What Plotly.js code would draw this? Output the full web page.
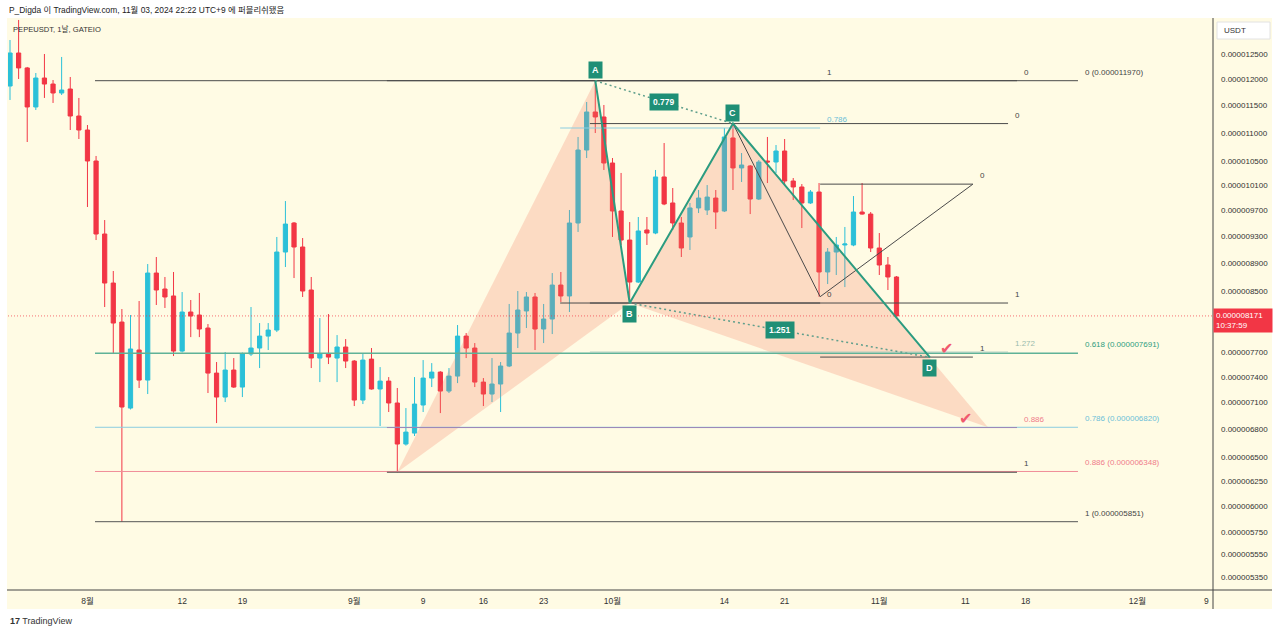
<!DOCTYPE html>
<html><head><meta charset="utf-8">
<script src="https://cdn.plot.ly/plotly-3.0.1.min.js"></script>
<style>html,body{margin:0;padding:0;background:#fff;}#chart{width:1280px;height:634px;}</style>
</head><body><div id="chart"></div>
<script>
// ---- candle data (prices in units of 1e-9 USDT) ----
const dates = ['2024-07-23','2024-07-24','2024-07-25','2024-07-26','2024-07-27','2024-07-28','2024-07-29','2024-07-30','2024-07-31',
'2024-08-01','2024-08-02','2024-08-03','2024-08-04','2024-08-05','2024-08-06','2024-08-07','2024-08-08','2024-08-09','2024-08-10',
'2024-08-11','2024-08-12','2024-08-13','2024-08-14','2024-08-15','2024-08-16','2024-08-17','2024-08-18','2024-08-19','2024-08-20',
'2024-08-21','2024-08-22','2024-08-23','2024-08-24','2024-08-25','2024-08-26','2024-08-27','2024-08-28','2024-08-29','2024-08-30','2024-08-31',
'2024-09-01','2024-09-02','2024-09-03','2024-09-04','2024-09-05','2024-09-06','2024-09-07','2024-09-08','2024-09-09','2024-09-10',
'2024-09-11','2024-09-12','2024-09-13','2024-09-14','2024-09-15','2024-09-16','2024-09-17','2024-09-18','2024-09-19','2024-09-20',
'2024-09-21','2024-09-22','2024-09-23','2024-09-24','2024-09-25','2024-09-26','2024-09-27','2024-09-28','2024-09-29','2024-09-30',
'2024-10-01','2024-10-02','2024-10-03','2024-10-04','2024-10-05','2024-10-06','2024-10-07','2024-10-08','2024-10-09','2024-10-10',
'2024-10-11','2024-10-12','2024-10-13','2024-10-14','2024-10-15','2024-10-16','2024-10-17','2024-10-18','2024-10-19','2024-10-20',
'2024-10-21','2024-10-22','2024-10-23','2024-10-24','2024-10-25','2024-10-26','2024-10-27','2024-10-28','2024-10-29','2024-10-30',
'2024-10-31','2024-11-01','2024-11-02','2024-11-03'];
const openN = [11867,12520,12220,11470,12022,11905,11733,11809,11303,
11049,10507,9333,8619,8090,7036,7731,7363,8760,8536,
8440,7718,8223,8183,8012,7447,7163,7484,7280,7681,
7756,7908,7986,9064,9501,9138,8522,7631,7681,7631,7769,
7594,7128,7618,7257,7351,7094,6637,6756,7071,7387,
7459,7233,7411,7908,7756,7339,7198,7316,7533,7947,
8237,8426,7999,8130,8591,8440,9501,10696,11377,11285,
10473,9688,9242,8633,9394,9348,10238,9815,9501,9288,
9736,9704,9894,9688,10907,10389,10422,9878,10507,10490,
10679,10171,10073,9815,9991,8775,9064,9168,9168,9672,
9640,9123,8875,8704];
const highN = [12787,13210,12240,12120,12500,11983,12440,12042,11639,
11139,10593,9547,8789,8263,8183,8371,8889,8991,8704,
8775,8494,8385,8481,8064,7582,7706,7631,7700,8290,
8077,8077,9288,9846,9516,9272,8704,8143,8196,7921,7870,
7606,7681,7756,7520,7399,7269,7036,7399,7606,7569,
7470,7508,8051,7947,7819,7387,7631,7582,8331,8508,
8494,8481,8331,8760,8775,9704,10925,11563,11970,11507,
10558,10305,9516,9594,9594,10355,10818,10056,9594,9815,
10024,10105,10024,11085,11170,10644,10439,10524,10925,10783,
10889,10221,10121,10024,10138,9123,9288,9440,9926,10138,
9672,9348,8991,8718];
const lowN = [11601,12003,10836,11414,11639,11545,11695,11049,10889,
9751,9242,8290,7681,5851,7020,7269,7198,8317,8277,
7656,7700,7895,7895,7210,6867,7105,7270,7163,7656,
7508,7731,7960,8846,8689,8426,7508,7339,7557,7339,7508,
7059,7082,7250,6834,6991,6340,6620,6724,6991,7280,
6979,7210,7327,7631,7280,7059,7105,6991,7520,7756,
8012,7731,7819,7934,8358,8223,9364,10558,10995,10355,
9288,9168,8344,8620,9168,9330,9780,9394,8991,9094,
9656,9625,9409,9672,10024,10155,9640,9862,10138,10305,
10105,9862,9424,9800,8430,8605,8732,8563,9150,9630,
9064,8732,8522,8157];
const closeN = [12520,12220,11470,12022,11905,11733,11790,11303,11049,
10507,9333,8619,8077,7048,7744,7363,8760,8522,8426,
7718,8223,8170,7999,7447,7163,7484,7280,7681,7756,
7908,7986,9064,9485,9138,8508,7631,7681,7643,7769,7594,
7128,7606,7257,7351,7094,6637,6767,7082,7387,7459,
7233,7411,7908,7756,7339,7198,7316,7533,7947,8250,
8426,7999,8130,8591,8440,9501,10696,11377,11285,10473,
9688,9242,8633,9379,9348,10238,9799,9501,9123,9736,
9894,9910,9672,10925,10389,10439,9878,10490,10490,10679,
10171,10073,9815,9991,8775,9064,9168,9183,9672,9640,
9123,8875,8704,8171];
const lastPriceN = 8171;
const lastPriceTimer = '10:37:59';

// ---- axis ticks ----
const yTickLabels = ['0.000012500','0.000012000','0.000011500','0.000011000','0.000010500','0.000010100','0.000009700','0.000009300',
'0.000008900','0.000008500','0.000007700','0.000007400','0.000007100','0.000006800','0.000006500','0.000006250','0.000006000',
'0.000005750','0.000005550','0.000005350'];
const xTickDates = ['2024-08-01','2024-08-12','2024-08-19','2024-09-01','2024-09-09','2024-09-16','2024-09-23','2024-10-01',
'2024-10-14','2024-10-21','2024-11-01','2024-11-11','2024-11-18','2024-12-01','2024-12-09'];
const xTickText = ['8월','12','19','9월','9','16','23','10월','14','21','11월','11','18','12월','9'];

// ---- XABCD pattern ----
const patternNames = ['X','A','B','C','D'];
const patternDates = ['2024-09-06','2024-09-29','2024-10-03','2024-10-15','2024-11-06 21:00'];
const patternPricesN = [6340,11970,8344,11165,7640];
const projTipDate = '2024-11-13 15:00';
const projTipPriceN = 6820;
const ratioTexts = ['0.779','1.251'];

// ---- fibonacci tools ----
const fibStart = ['2024-08-01 21:00','2024-09-04 19:00','2024-09-28 09:00','2024-09-24 22:00','2024-10-25 03:00'];
const fibEnd   = ['2024-11-24 02:00','2024-11-17 00:00','2024-11-15 23:00','2024-10-25 03:00','2024-11-11 21:00'];
const fibLevels = [[0,0.618,0.786,0.886,1],[0,0.886,1],[0,1,1.272],[0,0.786,1],[0,1]];
const fibPricesN = [[11970,7691,6820,6348,5851],[11970,6817,6340],[11165,8344,7705],[8344,11085,11970],[10120,7643]];
const fibShowPrice = [true,false,false,false,false];
const fibLineColors = [['#4a4a4a','#5fb297','#8ccde0','#f08c98','#555555'],['#4a4a4a','#9b86b8','#4a4a4a'],
  ['#4a4a4a','#4a4a4a','#a3c9ba'],['#4a4a4a','#8ccde0','#4a4a4a'],['#4a4a4a','#4a4a4a']];
const fibTextColors = [['#444','#2e9d7f','#6cbfd8','#ef7b8a','#444'],['#444','#ef7b8a','#444'],
  ['#444','#444','#9bbcae'],['#444','#6cbfd8','#444'],['#444','#444']];

// ---- extra trend lines ----
const trendDates = ['2024-10-15','2024-10-25 03:00','2024-11-11 21:00'];
const trendPricesN = [11165,8430,10120];

// ---- check marks ----
const checkDates = ['2024-11-08 18:00','2024-11-10 23:00'];
const checkPricesN = [7744,6923];

// ================= build =================
const UNIT = 1e-9;
const P = v => v*UNIT;
const L = v => Math.log10(v*UNIT);
const toMs = s => { const [d,t] = s.split(' '); return Date.parse(d+'T'+(t||'00:00')+':00Z'); };
const msStr = ms => new Date(ms).toISOString().replace('T',' ').slice(0,19);
const PX = px => (px-8)/1205;
const PY = py => (590-py)/572;
const FONT = 'Liberation Sans, Arial, Noto Sans CJK KR, sans-serif';
const xRange = ['2024-07-22 18:25','2024-12-09 18:30'];

const traces = [];
const ann = [];

const pd = patternDates, pp = patternPricesN;
// shaded triangles
traces.push({type:'scatter',mode:'lines',x:[pd[0],pd[1],pd[2],pd[0]],y:[pp[0],pp[1],pp[2],pp[0]].map(P),
  fill:'toself',fillcolor:'rgba(243,118,92,0.24)',line:{width:0},hoverinfo:'skip'});
traces.push({type:'scatter',mode:'lines',x:[pd[2],pd[3],projTipDate,pd[2]],y:[pp[2],pp[3],projTipPriceN,pp[2]].map(P),
  fill:'toself',fillcolor:'rgba(243,118,92,0.24)',line:{width:0},hoverinfo:'skip'});

// fib lines + labels
fibStart.forEach((s,k)=>{
  fibLevels[k].forEach((lv,j)=>{
    const pr = fibPricesN[k][j];
    traces.push({type:'scatter',mode:'lines',x:[s,fibEnd[k]],y:[P(pr),P(pr)],
      line:{color:fibLineColors[k][j],width:(k===0&&j===1)?1.6:1},hoverinfo:'skip'});
    const txt = fibShowPrice[k] ? `${lv} (${P(pr).toFixed(9)})` : String(lv);
    ann.push({x:fibEnd[k],y:L(pr),xref:'x',yref:'y',text:txt,showarrow:false,xanchor:'left',yanchor:'bottom',
      xshift:5,yshift:2,font:{family:FONT,size:8,color:fibTextColors[k][j]}});
  });
});

// trend lines
traces.push({type:'scatter',mode:'lines',x:trendDates,y:trendPricesN.map(P),line:{color:'#4a4a4a',width:1},hoverinfo:'skip'});

// dotted ratio lines A-C, B-D
traces.push({type:'scatter',mode:'lines',x:[pd[1],pd[3]],y:[pp[1],pp[3]].map(P),line:{color:'#5f9f8c',width:1.5,dash:'2px,3px'},hoverinfo:'skip'});
traces.push({type:'scatter',mode:'lines',x:[pd[2],pd[4]],y:[pp[2],pp[4]].map(P),line:{color:'#5f9f8c',width:1.5,dash:'2px,3px'},hoverinfo:'skip'});
// solid legs A-B-C-D
traces.push({type:'scatter',mode:'lines',x:pd.slice(1),y:pp.slice(1).map(P),line:{color:'#2b9c80',width:2},hoverinfo:'skip'});

// current price line
traces.push({type:'scatter',mode:'lines',x:xRange,y:[P(lastPriceN),P(lastPriceN)],line:{color:'rgba(242,54,69,0.7)',width:1,dash:'1px,2px'},hoverinfo:'skip'});

// candles
traces.push({type:'candlestick',x:dates,open:openN.map(P),high:highN.map(P),low:lowN.map(P),close:closeN.map(P),
  increasing:{line:{color:'#2BC0D8',width:1},fillcolor:'#2BC0D8'},
  decreasing:{line:{color:'#F23645',width:1},fillcolor:'#F23645'},whiskerwidth:0,hoverinfo:'skip'});

// pattern point labels
[1,2,3,4].forEach(i=>{
  const above = (i===1||i===3);
  ann.push({x:pd[i],y:L(pp[i]),xref:'x',yref:'y',text:'<b>'+patternNames[i]+'</b>',showarrow:false,
    xanchor:'center',yanchor:above?'bottom':'top',yshift:above?2:-2,bgcolor:'#1f8f76',borderpad:3,
    font:{family:FONT,size:9,color:'#fff'}});
});
// ratio labels at midpoints
[[1,3],[2,4]].forEach((pr,k)=>{
  const mx = msStr((toMs(pd[pr[0]])+toMs(pd[pr[1]]))/2);
  const my = (L(pp[pr[0]])+L(pp[pr[1]]))/2;
  ann.push({x:mx,y:my,xref:'x',yref:'y',text:'<b>'+ratioTexts[k]+'</b>',showarrow:false,bgcolor:'#1f8f76',borderpad:3,
    font:{family:FONT,size:8.5,color:'#fff'}});
});
// check marks
checkDates.forEach((d,k)=>{
  ann.push({x:d,y:L(checkPricesN[k]),xref:'x',yref:'y',text:'✔',showarrow:false,font:{family:'DejaVu Sans',size:16,color:'#F05A6E'}});
});

// header texts
ann.push({xref:'paper',yref:'paper',x:PX(7),y:PY(10),xanchor:'left',yanchor:'middle',showarrow:false,
  text:'P_Digda 이 TradingView.com, 11월 03, 2024 22:22 UTC+9 에 퍼블리쉬됐음',font:{family:FONT,size:8.4,color:'#222'}});
ann.push({xref:'paper',yref:'paper',x:PX(11),y:PY(29),xanchor:'left',yanchor:'middle',showarrow:false,
  text:'PEPEUSDT, 1날, GATEIO',font:{family:FONT,size:7.6,color:'#333'}});
ann.push({xref:'paper',yref:'paper',x:PX(1222),y:PY(30.5),xanchor:'left',yanchor:'middle',showarrow:false,
  text:'USDT',font:{family:FONT,size:8,color:'#333'}});
// last price box
ann.push({xref:'paper',yref:'y',x:1.0,y:L(lastPriceN),xanchor:'left',yanchor:'middle',yshift:-4.5,showarrow:false,
  text:P(lastPriceN).toFixed(9)+'<br>'+lastPriceTimer,align:'left',bgcolor:'#F23645',borderpad:2,width:54,
  font:{family:FONT,size:8,color:'#fff'}});
// footer logo
ann.push({xref:'paper',yref:'paper',x:PX(8),y:PY(621),xanchor:'left',yanchor:'middle',showarrow:false,
  text:'<b>17</b> TradingView',font:{family:FONT,size:9,color:'#333'}});

const shapes = [
  {type:'rect',xref:'paper',yref:'paper',x0:PX(7),x1:PX(1272),y0:PY(609),y1:PY(18),fillcolor:'#FFFBE4',line:{width:0},layer:'below'},
  {type:'line',xref:'paper',yref:'paper',x0:PX(1213),x1:PX(1213),y0:PY(609),y1:PY(18),line:{color:'#444',width:1}},
  {type:'line',xref:'paper',yref:'paper',x0:PX(7),x1:PX(1272),y0:PY(590),y1:PY(590),line:{color:'#444',width:1}},
  {type:'rect',xref:'paper',yref:'paper',x0:PX(1217),x1:PX(1270),y0:PY(39),y1:PY(22),fillcolor:'#ffffff',line:{color:'#e2e2e2',width:1},layer:'above'}
];

const layout = {
  width:1280,height:634,margin:{l:8,r:67,t:18,b:44,pad:0},
  paper_bgcolor:'#ffffff',plot_bgcolor:'rgba(0,0,0,0)',showlegend:false,hovermode:false,
  font:{family:FONT,size:9,color:'#333'},
  xaxis:{type:'date',range:xRange,tickmode:'array',tickvals:xTickDates,ticktext:xTickText,showgrid:false,zeroline:false,
    showline:false,ticks:'',tickfont:{family:FONT,size:8.5,color:'#333'},rangeslider:{visible:false},fixedrange:true,ticklabelstandoff:4},
  yaxis:{type:'log',side:'right',range:[L(5237),L(13252)],tickmode:'array',tickvals:yTickLabels.map(Number),ticktext:yTickLabels,
    showgrid:false,zeroline:false,showline:false,ticks:'',tickfont:{family:FONT,size:8,color:'#333'},ticklabelstandoff:7,fixedrange:true},
  shapes:shapes,annotations:ann
};
Plotly.newPlot('chart',traces,layout,{staticPlot:true,displayModeBar:false});
</script></body></html>
